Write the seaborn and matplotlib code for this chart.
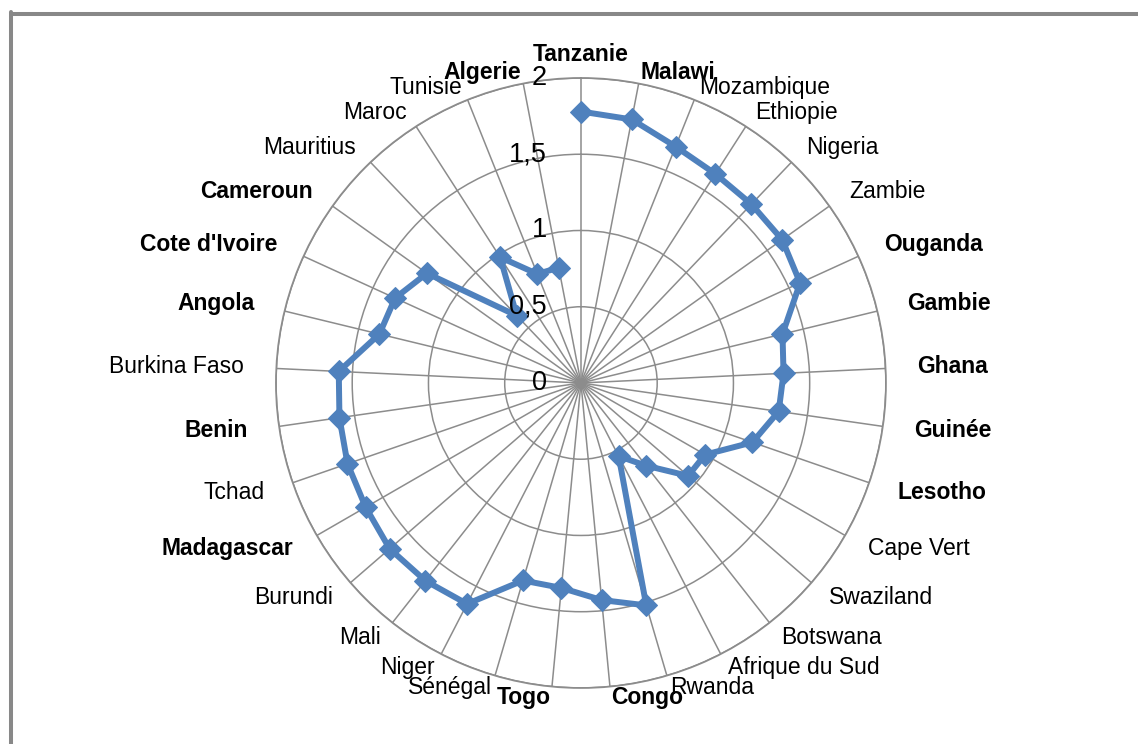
import numpy as np
import pandas as pd
import matplotlib
matplotlib.use('Agg')
import matplotlib.pyplot as plt
import matplotlib.transforms as mtransforms
from matplotlib.lines import Line2D
import seaborn as sns

# Countries in clockwise order, starting from the top
countries = ['Tanzanie', 'Malawi', 'Mozambique', 'Ethiopie', 'Nigeria', 'Zambie',
             'Ouganda', 'Gambie', 'Ghana', 'Guinée', 'Lesotho', 'Cape Vert',
             'Swaziland', 'Botswana', 'Afrique du Sud', 'Rwanda', 'Congo', 'Togo',
             'Sénégal', 'Niger', 'Mali', 'Burundi', 'Madagascar', 'Tchad', 'Benin',
             'Burkina Faso', 'Angola', "Cote d'Ivoire", 'Cameroun', 'Mauritius',
             'Maroc', 'Tunisie', 'Algerie']

# values
values = [1.78, 1.76, 1.67, 1.63, 1.62, 1.62,
          1.58, 1.36, 1.33, 1.31, 1.19, 0.94,
          0.93, 0.69, 0.54, 1.52, 1.43, 1.35,
          1.35, 1.63, 1.65, 1.66, 1.63, 1.62, 1.60,
          1.59, 1.36, 1.34, 1.24, 0.61,
          0.98, 0.77, 0.77]

r_ticks = [0, 0.5, 1, 1.5, 2]
r_tick_labels = ['0', '0,5', '1', '1,5', '2']

# labels that look heavier in the original
bold_labels = {'Tanzanie', 'Algerie', 'Malawi', 'Ouganda', 'Gambie', 'Ghana', 'Guinée',
               'Lesotho', 'Congo', 'Togo', 'Benin', 'Madagascar', 'Angola',
               "Cote d'Ivoire", 'Cameroun'}

sns.set_theme(style='white')
plt.rcParams['font.family'] = ['Liberation Sans', 'DejaVu Sans']

n = len(countries)
angles = np.linspace(0, 2 * np.pi, n, endpoint=False)

df = pd.DataFrame({'angle': np.append(angles, angles[0]),
                   'value': values + values[:1]})

fig = plt.figure(figsize=(11.38, 7.44), dpi=100)
ax = fig.add_axes([0.2425, 0.0753, 0.536, 0.8199], polar=True)
ax.set_theta_zero_location('N')
ax.set_theta_direction(-1)
ax.set_facecolor('white')

blue = '#4F81BD'
sns.lineplot(data=df, x='angle', y='value', sort=False, ax=ax, color=blue,
             linewidth=4.3, marker='D', markersize=11, markeredgecolor=blue,
             markerfacecolor=blue, zorder=5)

ax.set_ylim(0, 2)
ax.set_yticks(r_ticks[1:])
ax.set_yticklabels([])
ax.set_xticks(angles)
ax.set_xticklabels([])
ax.set_xlabel('')
ax.set_ylabel('')
ax.grid(True, color='#8c8c8c', linewidth=1.1)
ax.spines['polar'].set_color('#8c8c8c')
ax.spines['polar'].set_linewidth(1.3)

# radial tick labels, to the left of the top spoke (drawn over the line)
off = mtransforms.offset_copy(ax.transData, fig=fig, x=-24.5, y=0, units='points')
for rv, lab in zip(r_ticks, r_tick_labels):
    ax.text(0, rv, lab, transform=off, ha='right', va='center', fontsize=19.5,
            color='black', clip_on=False, zorder=10)

# category labels around the outside
for ang, name in zip(angles, countries):
    s = np.sin(ang)
    if abs(s) < 0.01:
        ha, va, rr = 'center', 'bottom', 2.08
    else:
        ha = 'left' if s > 0 else 'right'
        va = 'center'
        rr = 2.07 + 0.14 * s ** 2
    ax.text(ang, rr, name, ha=ha, va=va, fontsize=16.5, color='black',
            fontweight='bold' if name in bold_labels else 'normal', clip_on=False)

# frame lines of the original screenshot (top and left only)
fig.add_artist(Line2D([10.5 / 1138, 1.0], [1 - 14 / 744, 1 - 14 / 744],
                      transform=fig.transFigure, color='#888888', linewidth=2.9))
fig.add_artist(Line2D([10.5 / 1138, 10.5 / 1138], [0, 1 - 12 / 744],
                      transform=fig.transFigure, color='#888888', linewidth=2.9))

fig.savefig('out.png', dpi=100, facecolor='white')
